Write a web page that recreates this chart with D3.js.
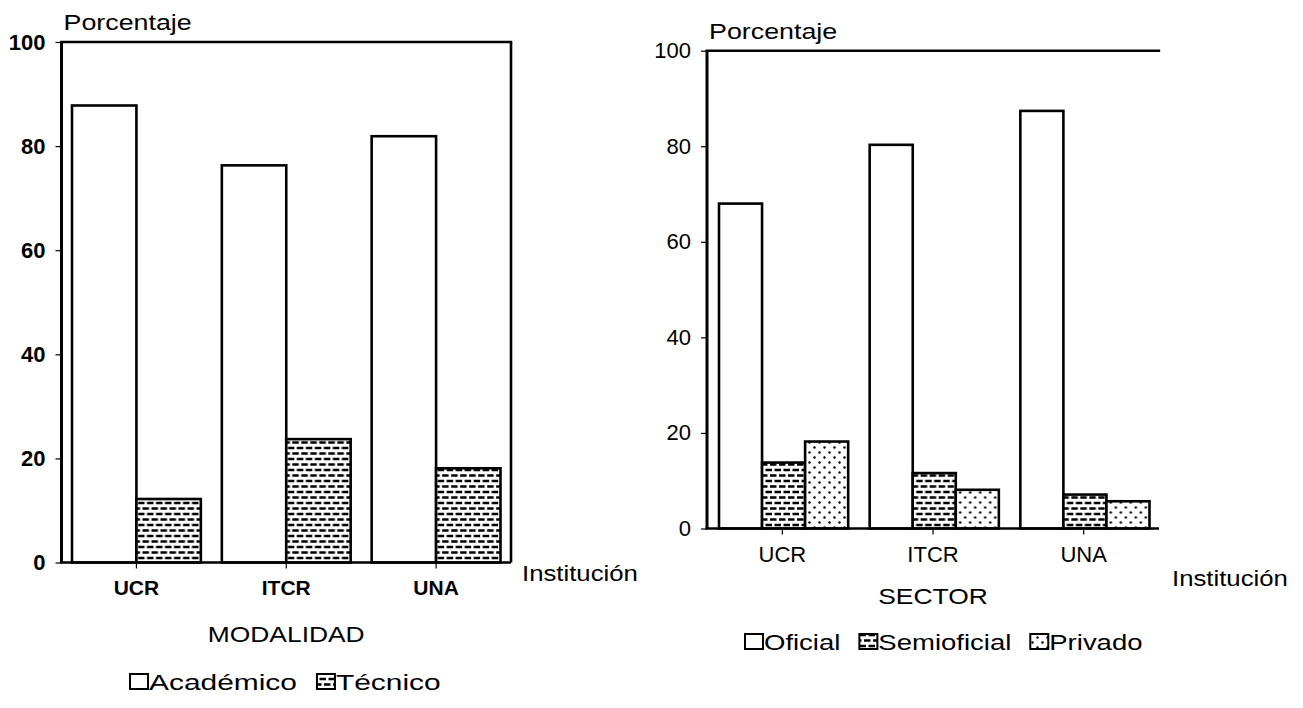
<!DOCTYPE html>
<html>
<head>
<meta charset="utf-8">
<script src="https://cdn.jsdelivr.net/npm/d3@7"></script>
<style>
  html, body { margin: 0; padding: 0; background: #fff; }
  svg { display: block; }
  text { font-family: "Liberation Sans", Arial, Helvetica, sans-serif; fill: #000; }
</style>
</head>
<body>
<svg id="chart" width="1303" height="708"></svg>
<script>
// ---------------- data ----------------
const categories = ["UCR", "ITCR", "UNA"];
const yTicks = [0, 20, 40, 60, 80, 100];

const modalidadSeries = ["Académico", "Técnico"];
const academico = [87.8, 76.3, 81.9];
const tecnico = [12.2, 23.7, 18.1];

const sectorSeries = ["Oficial", "Semioficial", "Privado"];
const oficial = [68.0, 80.3, 87.4];
const semioficial = [13.8, 11.6, 7.1];
const privado = [18.2, 8.1, 5.7];

const yTitle = "Porcentaje";
const xTitle = "Institución";
const leftTitle = "MODALIDAD";
const rightTitle = "SECTOR";

// ---------------- setup ----------------
const svg = d3.select("#chart");
const defs = svg.append("defs");

// brick pattern (horizontal dashes, staggered)
const brick = defs.append("pattern").attr("id", "brick")
  .attr("patternUnits", "userSpaceOnUse").attr("width", 9).attr("height", 11);
brick.append("rect").attr("width", 9).attr("height", 11).attr("fill", "#fff");
brick.append("path").attr("d", "M0,2.5H6.5M4.5,8H9M0,8H2")
  .attr("stroke", "#000").attr("stroke-width", 2.4);

// dots pattern
const dots = defs.append("pattern").attr("id", "dots")
  .attr("patternUnits", "userSpaceOnUse").attr("width", 10).attr("height", 10);
dots.append("rect").attr("width", 10).attr("height", 10).attr("fill", "#fff");
dots.append("circle").attr("cx", 2.5).attr("cy", 2.5).attr("r", 1.2).attr("fill", "#000");
dots.append("circle").attr("cx", 7.5).attr("cy", 7.5).attr("r", 1.2).attr("fill", "#000");

const fills = { "Académico": "#fff", "Técnico": "url(#brick)",
  "Oficial": "#fff", "Semioficial": "url(#brick)", "Privado": "url(#dots)" };

function label(g, x, y, str, o) {
  o = o || {};
  const t = g.append("text")
    .attr("transform", `translate(${x},${y}) scale(${o.sx || 1},1)`)
    .attr("font-size", o.size || 22)
    .attr("font-weight", o.weight || "normal")
    .attr("text-anchor", o.anchor || "start")
    .text(str);
  return t;
}

function drawChart(cfg) {
  const g = svg.append("g");
  const x = d3.scaleBand().domain(categories).range([cfg.x0, cfg.x1]);
  const inner = d3.scaleBand().domain(cfg.series)
    .range([cfg.padL, x.bandwidth() - cfg.padR]);
  const y = d3.scaleLinear().domain([0, 100]).range([cfg.y0, cfg.y1]);

  const rows = categories.map((c, i) => ({ cat: c,
    vals: cfg.series.map((s, j) => ({ s, v: cfg.values[j][i] })) }));

  // bars
  const grp = g.selectAll("g.grp").data(rows).join("g")
    .attr("transform", d => `translate(${x(d.cat)},0)`);
  grp.selectAll("rect").data(d => d.vals).join("rect")
    .attr("x", d => inner(d.s))
    .attr("y", d => y(d.v))
    .attr("width", inner.bandwidth())
    .attr("height", d => y(0) - y(d.v))
    .attr("fill", d => fills[d.s])
    .attr("stroke", "#000").attr("stroke-width", 2.6);

  // y axis
  const ya = g.append("g").attr("transform", `translate(${cfg.x0},0)`)
    .call(d3.axisLeft(y).tickValues(yTicks).tickSize(6).tickPadding(10).tickFormat(d3.format("d")));
  ya.select(".domain").remove();
  ya.selectAll("line").attr("stroke", "#000").attr("stroke-width", 1.2);
  ya.selectAll("text").attr("font-size", 22).attr("font-weight", cfg.bold ? "bold" : "normal")
    .attr("font-family", "'Liberation Sans', Arial, sans-serif").attr("fill", "#000");

  // x axis
  const xa = g.append("g").attr("transform", `translate(0,${cfg.y0})`)
    .call(d3.axisBottom(x).tickSize(6).tickPadding(12));
  xa.select(".domain").remove();
  xa.selectAll("line").attr("stroke", "#000").attr("stroke-width", 1.2);
  xa.selectAll("text").attr("font-size", cfg.catSize).attr("font-weight", cfg.bold ? "bold" : "normal")
    .attr("font-family", "'Liberation Sans', Arial, sans-serif").attr("fill", "#000");

  // frame lines
  const L = cfg.x0, R = cfg.x1, T = cfg.y1, B = cfg.y0;
  g.append("line").attr("x1", L).attr("x2", L).attr("y1", T).attr("y2", B)
    .attr("stroke", "#000").attr("stroke-width", 3);
  g.append("line").attr("x1", L - 1.5).attr("x2", R).attr("y1", B).attr("y2", B)
    .attr("stroke", "#000").attr("stroke-width", 2.6);
  g.append("line").attr("x1", L - 1.5).attr("x2", R + 1.2).attr("y1", T).attr("y2", T)
    .attr("stroke", "#000").attr("stroke-width", 2.4);
  if (cfg.rightBorder) {
    g.append("line").attr("x1", R).attr("x2", R).attr("y1", T).attr("y2", B)
      .attr("stroke", "#000").attr("stroke-width", 2.6);
  }

  // titles
  label(g, cfg.x0 + 2, cfg.y1 - 12, yTitle, { sx: 1.22, size: 22 });
  label(g, cfg.instX, cfg.instY, xTitle, { sx: 1.17, size: 22 });
  label(g, (cfg.x0 + cfg.x1) / 2, cfg.titleY, cfg.title, { sx: 1.2, size: 22, anchor: "middle" });

  // legend
  let lx = cfg.legX;
  const ly = cfg.legY;
  cfg.series.forEach((s, i) => {
    g.append("rect").attr("x", lx + 1).attr("y", ly - 16).attr("width", 18).attr("height", 15)
      .attr("fill", fills[s]).attr("stroke", "#000").attr("stroke-width", 2);
    const t = label(g, lx + 20, ly, s, { sx: cfg.legSx, size: 22 });
    const w = t.node().getComputedTextLength() * cfg.legSx;
    lx += 20 + w + cfg.legGap;
  });
}

drawChart({
  x0: 61.5, x1: 511, y0: 562.5, y1: 42,
  padL: 10.5, padR: 10.5,
  series: modalidadSeries, values: [academico, tecnico],
  bold: true, rightBorder: true, catSize: 21,
  instX: 522, instY: 581, title: leftTitle, titleY: 642,
  legX: 129, legY: 690, legSx: 1.36, legGap: 19
});

drawChart({
  x0: 707, x1: 1159, y0: 528.5, y1: 50.7,
  padL: 12, padR: 9.5,
  series: sectorSeries, values: [oficial, semioficial, privado],
  bold: false, rightBorder: false, catSize: 22,
  instX: 1172, instY: 586, title: rightTitle, titleY: 604,
  legX: 744, legY: 650, legSx: 1.25, legGap: 18
});
</script>
</body>
</html>
